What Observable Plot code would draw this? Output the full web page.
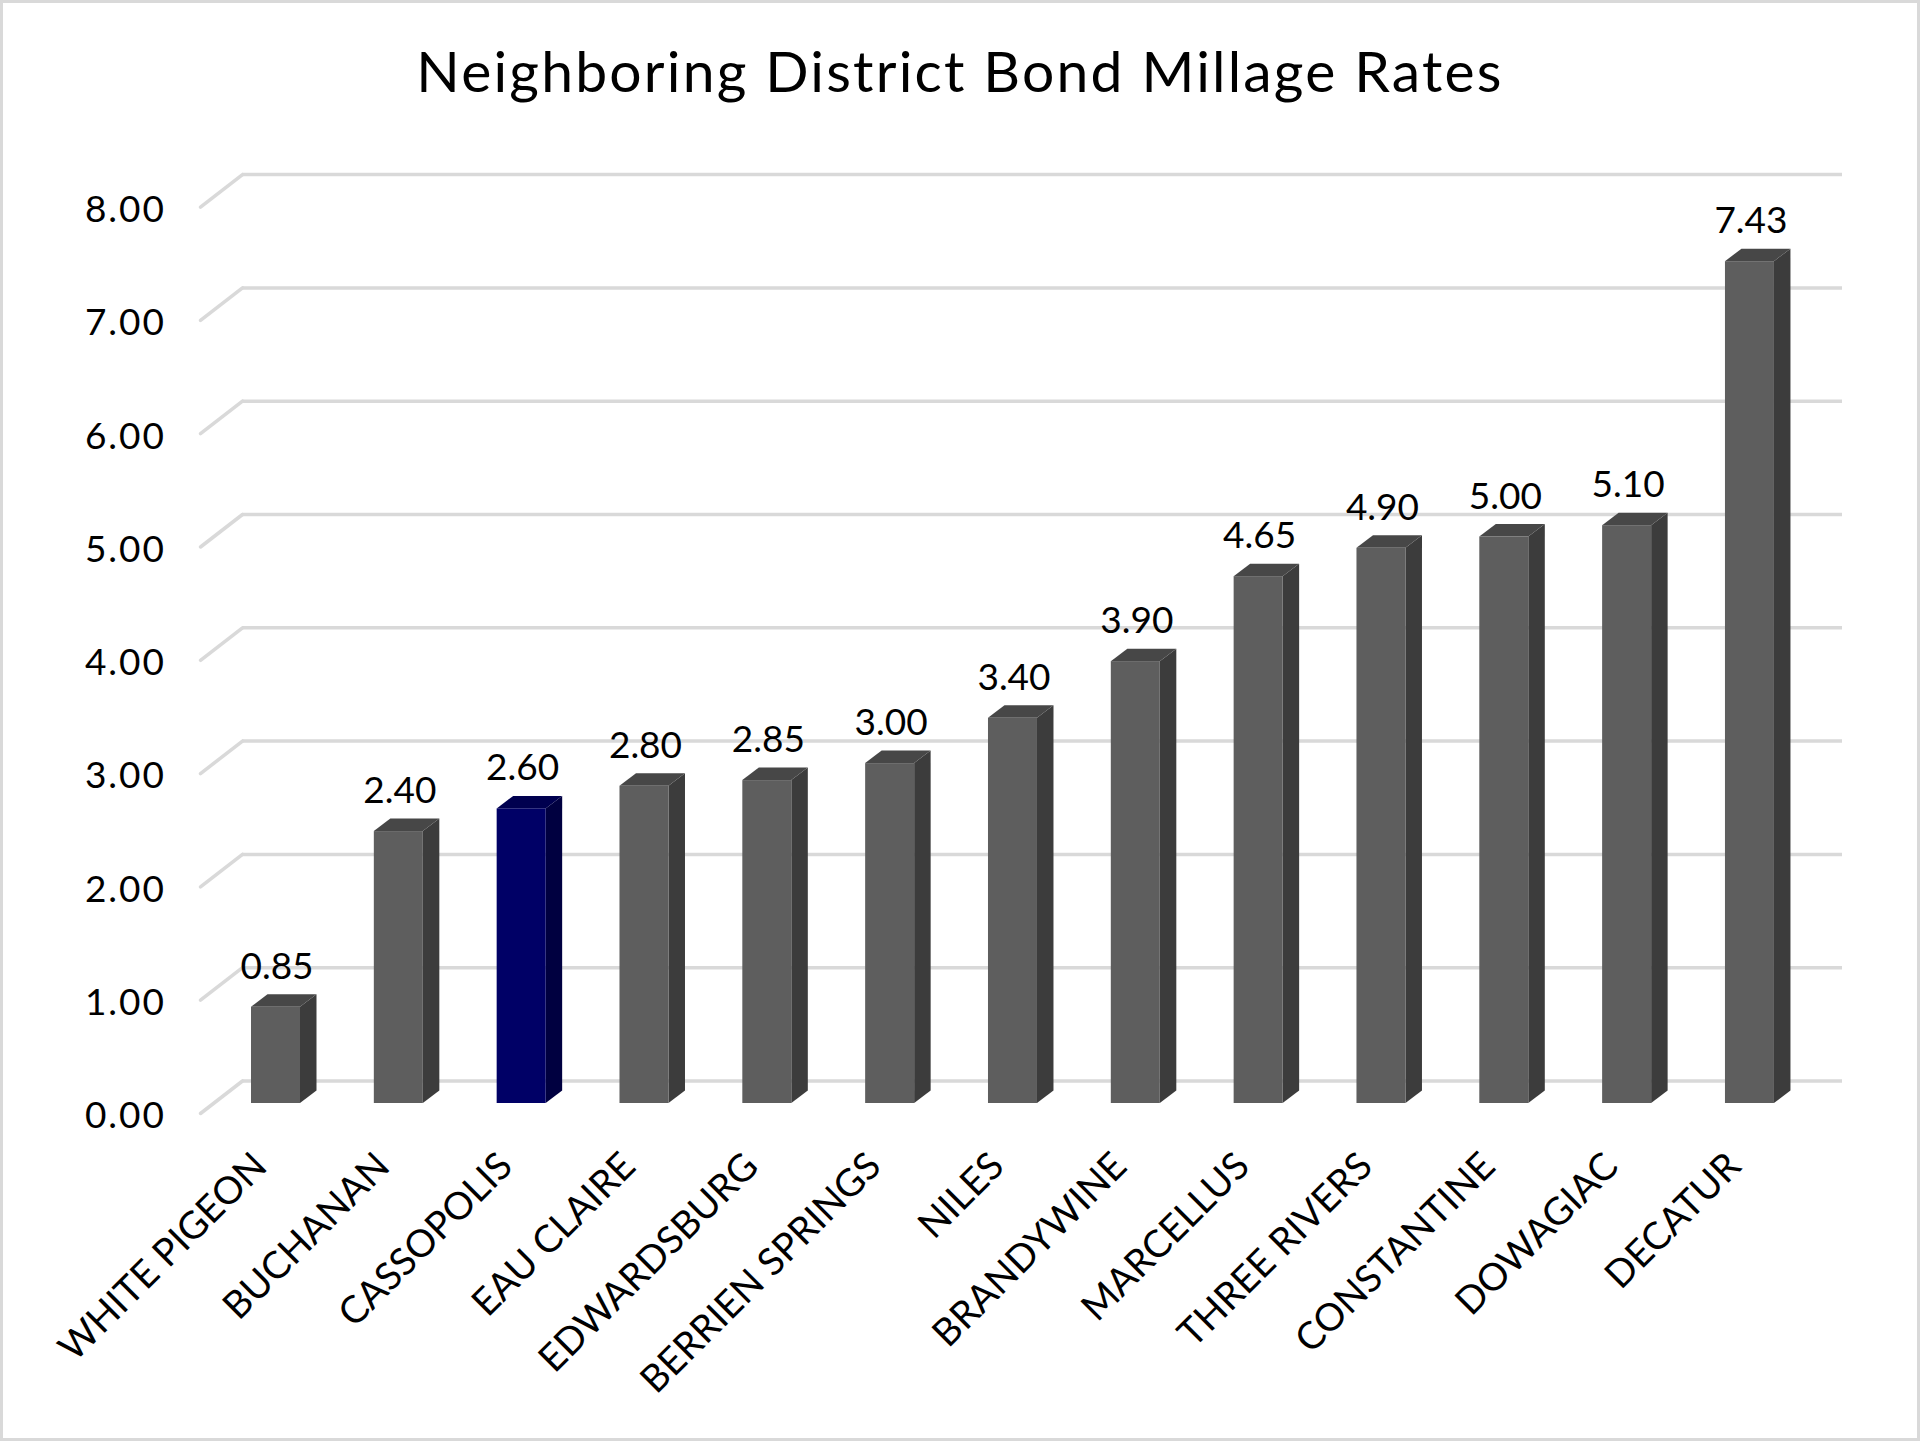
<!DOCTYPE html>
<html>
<head>
<meta charset="utf-8">
<script src="https://cdn.jsdelivr.net/npm/d3@7"></script>
<script src="https://cdn.jsdelivr.net/npm/@observablehq/plot@0.6"></script>
<style>
html, body { margin: 0; padding: 0; background: #fff; }
#wrap { position: relative; width: 1920px; height: 1441px; overflow: hidden; background: #fff; font-family: Lato, "Open Sans", sans-serif; }
#frame { position: absolute; left: 0; top: 0; width: 1920px; height: 1441px; box-sizing: border-box; border: 3px solid #d9d9d9; pointer-events: none; }
#title { height: 130px; box-sizing: border-box; padding-top: 42px; text-align: center; font-size: 57px; line-height: 1; color: #000; white-space: nowrap; letter-spacing: 2.2px; }
#chart svg { display: block; }
</style>
</head>
<body>
<div id="wrap">
  <div id="title">Neighboring District Bond Millage Rates</div>
  <div id="chart"></div>
  <div id="frame"></div>
</div>
<script>
// ---- data ----
const districts = ["WHITE PIGEON", "BUCHANAN", "CASSOPOLIS", "EAU CLAIRE", "EDWARDSBURG", "BERRIEN SPRINGS", "NILES", "BRANDYWINE", "MARCELLUS", "THREE RIVERS", "CONSTANTINE", "DOWAGIAC", "DECATUR"];
const rates = [0.85, 2.40, 2.60, 2.80, 2.85, 3.00, 3.40, 3.90, 4.65, 4.90, 5.00, 5.10, 7.43];
const highlighted = "CASSOPOLIS";
const yTicks = [0, 1, 2, 3, 4, 5, 6, 7, 8];

// ---- colours ----
const grayFace = {front: "#5e5e5e", side: "#3c3c3c", top: "#474747"};
const navyFace = {front: "#000066", side: "#000040", top: "#00004f"};

// ---- layout (pixels) ----
const W = 1920, H = 1311;
const STEP = 122.83;            // px per category
const X0 = 275.5;               // px of first category centre
const Y0 = 973;                 // px of value 0 (front plane)
const PPU = 113.3;              // px per unit
const half = 24.5 / STEP;       // half bar width in x units
const depthX = 16.5 / STEP;     // bar depth in x units
const depthY = 12.5 / PPU;      // bar depth in y units
const backY = 22.5 / PPU;       // back wall offset
const floorY = 10 / PPU;        // front floor offset
const gridX1 = (242 - X0) / STEP, gridX2 = (1842 - X0) / STEP, floorX = (200 - X0) / STEP;

const bars = districts.map((name, i) => {
  const c = name === highlighted ? navyFace : grayFace;
  return {i, name, v: rates[i], ...c};
});
const sidePts = bars.flatMap(b => [
  {name: b.name, x: b.i + half, y1: 0, y2: b.v, fill: b.side},
  {name: b.name, x: b.i + half + depthX, y1: depthY, y2: b.v + depthY, fill: b.side}
]);
const topPts = bars.flatMap(b => [
  {name: b.name, y: b.v, x1: b.i - half, x2: b.i + half, fill: b.top},
  {name: b.name, y: b.v + depthY, x1: b.i - half + depthX, x2: b.i + half + depthX, fill: b.top}
]);

const fmt = d3.format(".2f");

const chart = Plot.plot({
  width: W,
  height: H,
  marginLeft: 164,
  marginTop: 0,
  marginRight: 0,
  marginBottom: 0,
  style: {fontFamily: "Lato, 'Open Sans', sans-serif", fontSize: "37px", color: "#000", background: "transparent"},
  x: {domain: [0, districts.length - 1], range: [X0, X0 + STEP * (districts.length - 1)], axis: null},
  y: {domain: [0, 8], range: [Y0, Y0 - 8 * PPU]},
  color: {type: "identity"},
  marks: [
    Plot.ruleY(yTicks, {y: d => d + backY, x1: gridX1, x2: gridX2, stroke: "#d9d9d9", strokeWidth: 3.5}),
    Plot.link(yTicks, {x1: floorX, y1: d => d - floorY, x2: gridX1, y2: d => d + backY, stroke: "#d9d9d9", strokeWidth: 3.5, strokeLinecap: "round"}),
    Plot.axisY(yTicks, {tickSize: 0, tickPadding: 0, tickFormat: fmt, fontSize: 37, fill: "#000", dy: 13, dx: 1.5}),
    Plot.areaY(sidePts, {x: "x", y1: "y1", y2: "y2", z: "name", fill: "fill"}),
    Plot.areaX(topPts, {y: "y", x1: "x1", x2: "x2", z: "name", fill: "fill"}),
    Plot.rectY(bars, {x1: d => d.i - half, x2: d => d.i + half, y1: 0, y2: "v", fill: "front"}),
    Plot.text(bars, {x: "i", y: "v", text: d => fmt(d.v), dy: -28.5, dx: 1, lineAnchor: "bottom", fontSize: 37, fill: "#000", ariaLabel: "value-labels"}),
    Plot.text(bars, {x: "i", y: 0, text: "name", rotate: -45, textAnchor: "end", lineAnchor: "bottom", dx: -7, dy: 65, fontSize: 38, fill: "#000"})
  ]
});
d3.select(chart).selectAll('g[aria-label="value-labels"] text, g[aria-label="y-axis tick label"] text').style("letter-spacing", "2px");
document.getElementById("chart").appendChild(chart);
</script>
</body>
</html>
